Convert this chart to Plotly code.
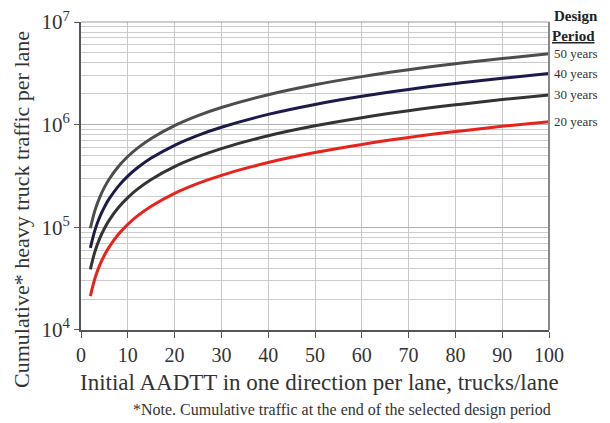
import math
import plotly.graph_objects as go

aadtt = [2, 3, 4, 5, 6, 8, 10, 12, 15, 20, 25, 30, 40, 50, 60, 70, 80, 90, 100]
years_20 = [21400, 32100, 42800, 53500, 64200, 85600, 107000, 128400, 160500, 214000,
            267500, 321000, 428000, 535000, 642000, 749000, 856000, 963000, 1070000]
years_30 = [39000, 58500, 78000, 97500, 117000, 156000, 195000, 234000, 292500, 390000,
            487500, 585000, 780000, 975000, 1170000, 1365000, 1560000, 1755000, 1950000]
years_40 = [63000, 94500, 126000, 157500, 189000, 252000, 315000, 378000, 472500, 630000,
            787500, 945000, 1260000, 1575000, 1890000, 2205000, 2520000, 2835000, 3150000]
years_50 = [98000, 147000, 196000, 245000, 294000, 392000, 490000, 588000, 735000, 980000,
            1225000, 1470000, 1960000, 2450000, 2940000, 3430000, 3920000, 4410000, 4900000]

series = [
    ("50 years", years_50, "#4d4d4d"),
    ("40 years", years_40, "#1c1a4a"),
    ("30 years", years_30, "#333333"),
    ("20 years", years_20, "#e8231c"),
]

x_ticks = [0, 10, 20, 30, 40, 50, 60, 70, 80, 90, 100]
y_ticks = [1e4, 1e5, 1e6, 1e7]
y_ticktext = ["10<sup>4</sup>", "10<sup>5</sup>", "10<sup>6</sup>", "10<sup>7</sup>"]

SERIF = "Liberation Serif, Times New Roman, serif"

fig = go.Figure()
for name, vals, color in series:
    fig.add_trace(go.Scatter(x=aadtt, y=vals, mode="lines", name=name,
                             line=dict(color=color, width=3, shape="spline"),
                             showlegend=False))
    fig.add_annotation(x=100, y=math.log10(vals[-1]), xref="x", yref="y",
                       text=name, showarrow=False, xanchor="left", yanchor="middle",
                       xshift=3, font=dict(family=SERIF, size=13, color="#333333"))

fig.add_annotation(x=1.006, y=1.019, xref="paper", yref="paper",
                   text="<b>Design</b>", showarrow=False, xanchor="left", yanchor="middle",
                   font=dict(family=SERIF, size=15, color="#222222"))
fig.add_annotation(x=1.0, y=0.955, xref="paper", yref="paper",
                   text="<b><span style='text-decoration:underline'>Period</span></b>",
                   showarrow=False, xanchor="left", yanchor="middle", xshift=1,
                   font=dict(family=SERIF, size=15, color="#222222"))

fig.add_annotation(x=-0.126, y=0.39, xref="paper", yref="paper", textangle=-90,
                   text="Cumulative* heavy truck traffic per lane", showarrow=False,
                   xanchor="center", yanchor="middle",
                   font=dict(family=SERIF, size=22, color="#333333"))
fig.add_annotation(x=0.51, y=-0.172, xref="paper", yref="paper",
                   text="Initial AADTT in one direction per lane, trucks/lane",
                   showarrow=False, xanchor="center", yanchor="middle",
                   font=dict(family=SERIF, size=23, color="#333333"))
fig.add_annotation(x=0.558, y=-0.26, xref="paper", yref="paper",
                   text="*Note. Cumulative traffic at the end of the selected design period",
                   showarrow=False, xanchor="center", yanchor="middle",
                   font=dict(family=SERIF, size=16, color="#333333"))

fig.update_layout(
    width=602, height=415,
    margin=dict(l=73, r=61, t=14, b=93, autoexpand=False),
    paper_bgcolor="white", plot_bgcolor="white",
    font=dict(family=SERIF, color="#333333"),
    xaxis=dict(range=[0, 100], tickvals=x_ticks, showgrid=True, gridcolor="#c8c8c8",
               gridwidth=1, showline=True, linecolor="#555555", linewidth=2,
               mirror=False, ticks="outside", ticklen=6, tickcolor="#555555",
               automargin=False,
               tickfont=dict(family=SERIF, size=20, color="#333333"), zeroline=False),
    yaxis=dict(type="log", range=[3.9995, 7.0005], tickvals=y_ticks, ticktext=y_ticktext,
               showgrid=True, gridcolor="#b0b0b0", gridwidth=1,
               minor=dict(dtick="D1", showgrid=True, gridcolor="#cccccc", gridwidth=1),
               showline=True, linecolor="#555555", linewidth=2,
               ticks="outside", ticklen=5, tickcolor="#555555",
               ticklabeloverflow="allow", automargin=False,
               tickfont=dict(family=SERIF, size=21, color="#333333"), zeroline=False),
)
fig.add_shape(type="line", xref="paper", yref="paper", x0=1, x1=1, y0=0, y1=1,
              line=dict(color="#888888", width=2))
fig.add_shape(type="line", xref="paper", yref="paper", x0=0, x1=1, y0=1, y1=1,
              line=dict(color="#999999", width=1))

fig.write_html("out.html")
